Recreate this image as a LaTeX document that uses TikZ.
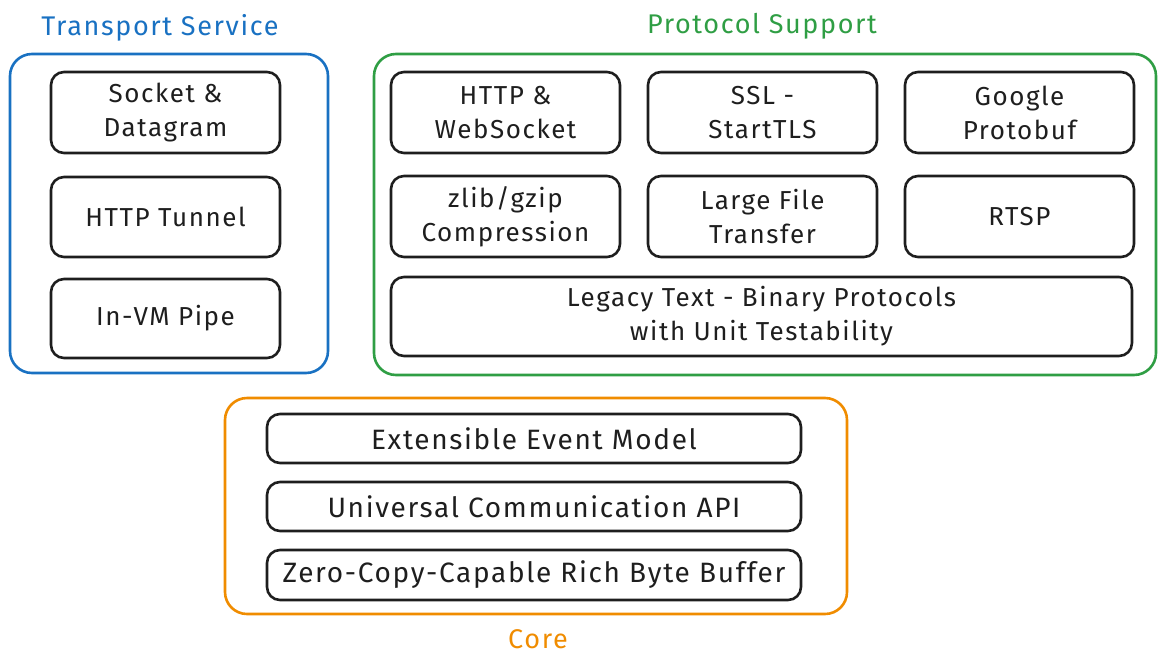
\documentclass[tikz,border=0pt]{standalone}
\usepackage{fontspec}
\setmainfont{Fira Sans}[LetterSpace=6]
\definecolor{inkblack}{HTML}{1E1E1E}
\definecolor{inkblue}{HTML}{1971C2}
\definecolor{inkgreen}{HTML}{2F9E44}
\definecolor{inkorange}{HTML}{F08C00}
\tikzset{
  frame/.style={draw, line width=2.6pt, rounded corners=22pt},
  block/.style={draw=inkblack, line width=2.6pt, rounded corners=13pt, align=center,
    font=\fontsize{26}{34}\selectfont, text=inkblack, inner sep=0pt},
  coreblock/.style={block, minimum width=534pt, font=\fontsize{28}{34}\selectfont},
  title/.style={font=\fontsize{27}{30}\selectfont},
}
\begin{document}
\begin{tikzpicture}[x=1pt, y=-1pt]
    \useasboundingbox (0, 0) rectangle (1165, 667);
    % outer frames
    \node (transport) at (169, 213.5) [frame, draw=inkblue, minimum width=318pt, minimum height=319pt] {};
    \node (protocol) at (765, 214.5) [frame, draw=inkgreen, minimum width=782pt, minimum height=321pt] {};
    \node (core) at (536, 506) [frame, draw=inkorange, minimum width=622pt, minimum height=216pt] {};
    % titles
    \node (ttransport) at (160, 28) [title, text=inkblue] {Transport Service};
    \node (tprotocol) at (762, 26) [title, text=inkgreen] {Protocol Support};
    \node (tcore) at (538, 639) [title, text=inkorange] {Core};
    % transport service
    \node (socket) at (165.5, 112.5) [block, minimum width=229pt, minimum height=81pt] {Socket \&\\Datagram};
    \node (tunnel) at (165.5, 217) [block, minimum width=229pt, minimum height=80pt] {HTTP Tunnel};
    \node (pipe) at (165.5, 318.5) [block, minimum width=229pt, minimum height=79pt] {In-VM Pipe};
    % protocol support
    \node (http) at (505.5, 112.5) [block, minimum width=229pt, minimum height=81pt] {HTTP \&\\WebSocket};
    \node (ssl) at (762.5, 112.5) [block, minimum width=229pt, minimum height=81pt] {SSL -\\StartTLS};
    \node (protobuf) at (1019.5, 112.5) [block, minimum width=229pt, minimum height=81pt] {Google\\Protobuf};
    \node (zlib) at (505.5, 216.5) [block, minimum width=229pt, minimum height=81pt] {zlib/gzip\\Compression};
    \node (largefile) at (762.5, 216.5) [block, minimum width=229pt, minimum height=81pt] {Large File\\Transfer};
    \node (rtsp) at (1019.5, 216.5) [block, minimum width=229pt, minimum height=81pt] {RTSP};
    \node (legacy) at (761.5, 316.5) [block, minimum width=741pt, minimum height=79pt] {Legacy Text - Binary Protocols\\with Unit Testability};
    % core
    \node (event) at (534, 438.5) [coreblock, minimum height=49pt] {Extensible Event Model};
    \node (api) at (534, 506.5) [coreblock, minimum height=49pt] {Universal Communication API};
    \node (buffer) at (534, 575) [coreblock, minimum height=50pt] {Zero-Copy-Capable Rich Byte Buffer};
\end{tikzpicture}
\end{document}
